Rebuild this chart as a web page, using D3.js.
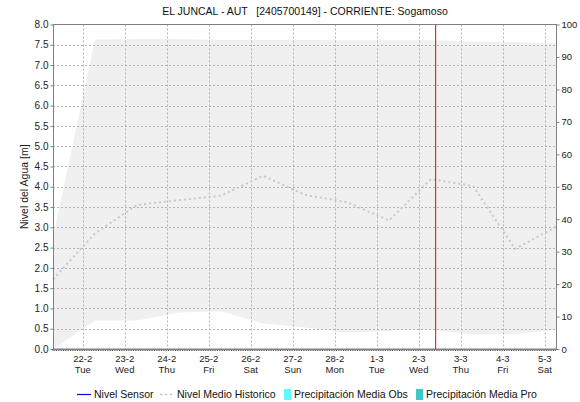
<!DOCTYPE html>
<html><head><meta charset="utf-8">
<script src="https://cdn.jsdelivr.net/npm/d3@7"></script>
<style>
html,body{margin:0;padding:0;background:#fff;}
svg{display:block;font-family:"Liberation Sans",Arial,sans-serif;}
</style></head>
<body>
<svg id="chart" width="580" height="402"></svg>
<script>
// ---- data ----
const title = "EL JUNCAL - AUT   [2405700149] - CORRIENTE: Sogamoso";
const yLabel = "Nivel del Agua [m]";
const pointDates = ["2022-02-21","2022-02-22","2022-02-23","2022-02-24","2022-02-25","2022-02-26","2022-02-27",
                    "2022-02-28","2022-03-01","2022-03-02","2022-03-03","2022-03-04","2022-03-05"];
const histMax  = [2.75, 7.63, 7.64, 7.64, 7.62, 7.62, 7.62, 7.61, 7.61, 7.61, 7.58, 7.57, 7.53];
const histMin  = [0.00, 0.70, 0.70, 0.90, 0.93, 0.63, 0.53, 0.40, 0.45, 0.48, 0.36, 0.37, 0.48];
const histMean = [1.72, 2.85, 3.55, 3.67, 3.78, 4.27, 3.80, 3.62, 3.17, 4.19, 4.02, 2.47, 3.02];
const sensorValues = [];     // Nivel Sensor: no data shown
const precipObs = [];        // Precipitación Media Obs: no data shown
const precipPro = [];        // Precipitación Media Pro: no data shown
const nowMark = "2022-03-02T09:15";
const leftTicks = d3.range(0, 8.01, 0.5);
const rightTicks = d3.range(0, 101, 10);
const legendItems = [
  {label:"Nivel Sensor", type:"line", color:"#0000ff"},
  {label:"Nivel Medio Historico", type:"dash", color:"#c0c0c0"},
  {label:"Precipitación Media Obs", type:"rect", color:"#5ffafa"},
  {label:"Precipitación Media Pro", type:"rect", color:"#40c8c8"}
];

// ---- layout ----
const L = 53, R = 557, T = 24.5, B = 349;
const parse = s => { const [y,m,d] = s.split("-").map(Number); return new Date(y, m-1, d, 7, 0); };
const dates = pointDates.map(parse);
const nowDate = (() => { const [a,b] = nowMark.split("T"); const [y,m,d]=a.split("-").map(Number); const [h,mi]=b.split(":").map(Number); return new Date(y,m-1,d,h,mi); })();

const svg = d3.select("#chart");
const x = d3.scaleTime().domain([dates[0], dates[dates.length-1]]).range([L, R]);
const y = d3.scaleLinear().domain([0, 8]).range([B, T]);
const y2 = d3.scaleLinear().domain([0, 100]).range([B, T]);

// band
const rows = dates.map((d,i)=>({d, lo:histMin[i], hi:histMax[i], m:histMean[i]}));
svg.append("path").datum(rows)
  .attr("d", d3.area().x(r=>x(r.d)).y0(r=>y(r.lo)).y1(r=>y(r.hi)))
  .attr("fill", "#f0f0f0");

// grid
const dayTicks = d3.timeDay.range(d3.timeDay.ceil(x.domain()[0]), x.domain()[1]);
svg.append("g").selectAll("line").data(leftTicks.filter(v=>v>0 && v<8)).join("line")
  .attr("x1", L).attr("x2", R).attr("y1", v=>Math.round(y(v))+0.5).attr("y2", v=>Math.round(y(v))+0.5)
  .attr("stroke", "#b4b4b4").attr("stroke-width", 1).attr("stroke-dasharray", "2,2");
svg.append("g").selectAll("line").data(dayTicks).join("line")
  .attr("x1", d=>Math.round(x(d))+0.5).attr("x2", d=>Math.round(x(d))+0.5).attr("y1", T).attr("y2", B)
  .attr("stroke", "#b4b4b4").attr("stroke-width", 1).attr("stroke-dasharray", "2,2");

// historical mean line
svg.append("path").datum(rows)
  .attr("d", d3.line().x(r=>x(r.d)).y(r=>y(r.m)))
  .attr("fill", "none").attr("stroke", "#c8c8c8").attr("stroke-width", 2).attr("stroke-dasharray", "2,3");

// sensor line (empty)
if (sensorValues.length) {
  svg.append("path").datum(sensorValues).attr("fill","none").attr("stroke","#0000ff");
}

// frame
svg.append("rect").attr("x", L+0.5).attr("y", T).attr("width", R-L-1).attr("height", B-T)
  .attr("fill", "none").attr("stroke", "#808080").attr("stroke-width", 1);

// now marker
svg.append("rect")
  .attr("x", Math.round(x(nowDate))).attr("width", 1.2)
  .attr("y", T).attr("height", B-T).style("fill", "rgb(240,40,40)");

// left axis
const gl = svg.append("g").attr("transform", `translate(${L+0.5},0)`)
  .call(d3.axisLeft(y).tickValues(leftTicks).tickFormat(d3.format(".1f")).tickSize(3).tickPadding(2));
gl.select(".domain").remove();
gl.selectAll("line").attr("stroke", "#808080");
gl.selectAll("text").attr("font-size", "10px").attr("fill", "#222").style("font-family", "'Liberation Sans',Arial,sans-serif");

// right axis
const gr = svg.append("g").attr("transform", `translate(${R-0.5},0)`)
  .call(d3.axisRight(y2).tickValues(rightTicks).tickFormat(d3.format("d")).tickSize(3).tickPadding(2));
gr.select(".domain").remove();
gr.selectAll("line").attr("stroke", "#808080");
gr.selectAll("text").attr("font-size", "9.5px").attr("fill", "#222").style("font-family", "'Liberation Sans',Arial,sans-serif");

// bottom axis: hourly minor ticks
const hours = d3.timeHour.range(x.domain()[0], x.domain()[1]);
svg.append("g").selectAll("line").data(hours).join("line")
  .attr("x1", d=>x(d)).attr("x2", d=>x(d)).attr("y1", B).attr("y2", B+2)
  .attr("stroke", "#333").attr("stroke-width", 0.8);
svg.append("line").attr("x1", L).attr("x2", R).attr("y1", B+0.5).attr("y2", B+0.5)
  .attr("stroke", "#808080");
const fmtDay = d3.timeFormat("%-d-%-m"), fmtWk = d3.timeFormat("%a");
const gb = svg.append("g");
gb.selectAll("text.d").data(dayTicks).join("text").attr("class","d")
  .attr("x", d=>x(d)).attr("y", 362).attr("text-anchor","middle")
  .attr("font-size","9.5px").attr("fill","#222").text(fmtDay);
gb.selectAll("text.w").data(dayTicks).join("text").attr("class","w")
  .attr("x", d=>x(d)).attr("y", 373).attr("text-anchor","middle")
  .attr("font-size","9.5px").attr("fill","#222").text(fmtWk);

// title
svg.append("text").attr("x", 305).attr("y", 15).attr("text-anchor","middle")
  .attr("font-size","10.5px").attr("fill","#111").style("white-space","pre").text(title);

// y label
svg.append("text").attr("transform", `translate(28,${(T+B)/2}) rotate(-90)`)
  .attr("text-anchor","middle").attr("font-size","10.5px").attr("fill","#222").text(yLabel);

// legend
const legX = [77, 160, 284, 416];
const lg = svg.append("g");
legendItems.forEach((it,i)=>{
  const x0 = legX[i], cy = 394;
  if (it.type==="line") {
    lg.append("line").attr("x1",x0).attr("x2",x0+14).attr("y1",cy+0.5).attr("y2",cy+0.5).attr("stroke",it.color).attr("stroke-width",1.2);
  } else if (it.type==="dash") {
    lg.append("line").attr("x1",x0).attr("x2",x0+14).attr("y1",cy+0.5).attr("y2",cy+0.5).attr("stroke",it.color).attr("stroke-width",1.5).attr("stroke-dasharray","2,3");
  } else {
    lg.append("rect").attr("x",x0).attr("y",cy-5).attr("width",7).attr("height",11).attr("fill",it.color);
  }
  const tx = it.type==="rect" ? x0+10 : x0+17;
  lg.append("text").attr("x",tx).attr("y",cy+4).attr("font-size","10.5px").attr("fill","#111").text(it.label);
});
</script>
</body></html>
